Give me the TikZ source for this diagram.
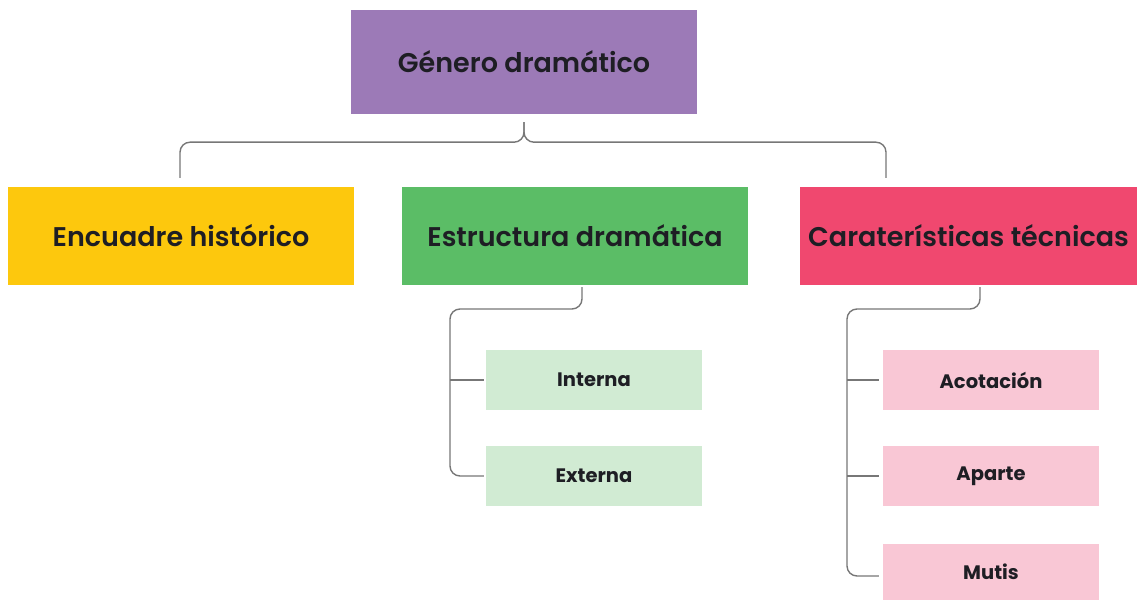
\documentclass[tikz,border=0pt]{standalone}
\usepackage{fontspec}
\setmainfont{Poppins}
\newfontfamily\popsb{Poppins SemiBold}
\usetikzlibrary{calc}
\definecolor{cRoot}{HTML}{9C7AB7}
\definecolor{cYel}{HTML}{FDC80D}
\definecolor{cGrn}{HTML}{5BBD66}
\definecolor{cRed}{HTML}{F0486F}
\definecolor{cLGrn}{HTML}{D1EBD3}
\definecolor{cLPnk}{HTML}{F9C7D5}
\definecolor{cLine}{HTML}{777777}
\definecolor{cTxt}{HTML}{1E1E24}
\tikzset{
  big/.style={rectangle, inner sep=0pt, minimum width=346pt, minimum height=98pt, text=cTxt, font=\fontsize{27}{30}\popsb},
  small/.style={rectangle, inner sep=0pt, minimum width=216pt, minimum height=60pt, text=cTxt, font=\fontsize{19.5}{22}\selectfont\bfseries},
  conn/.style={draw=cLine, line width=1.4pt, rounded corners=10pt},
}
\begin{document}
\begin{tikzpicture}[x=1pt,y=-1pt]
\useasboundingbox (0,0) rectangle (1137,601);
\node[big, fill=cRoot, minimum height=104pt] (root) at (524,62) {Género dramático};
\node[big, fill=cYel] (enc) at (181,236) {Encuadre histórico};
\node[big, fill=cGrn] (est) at (575,236) {Estructura dramática};
\node[big, fill=cRed, minimum width=337pt] (car) at (968.5,236) {Caraterísticas técnicas};
\node[small, fill=cLGrn] (int) at (594,380) {Interna};
\node[small, fill=cLGrn] (ext) at (594,476) {Externa};
\node[small, fill=cLPnk] (aco) at (991,380) {Acotación};
\node[small, fill=cLPnk] (apa) at (991,476) {Aparte};
\node[small, fill=cLPnk, minimum height=56pt] (mut) at (991,572) {Mutis};
% top brace
\draw[conn] ($(root.south)+(0,8)$) -- ($(root.south)+(0,28)$) -| ($(enc.north)+(-1,-9)$);
\draw[conn] ($(root.south)+(0,8)$) -- ($(root.south)+(0,28)$) -| ($(car.north)+(-82.5,-9)$);
% estructura
\draw[conn] ($(est.south)+(7,2)$) |- (450,309) |- ($(ext.west)+(-2,0)$);
\draw[conn] (450,380) -- ($(int.west)+(-2,0)$);
% caracteristicas
\draw[conn] ($(car.south)+(11.5,2)$) |- (847,309) |- ($(mut.west)+(-4,4)$);
\draw[conn] (847,380) -- ($(aco.west)+(-4,0)$);
\draw[conn] (847,476) -- ($(apa.west)+(-4,0)$);
\end{tikzpicture}
\end{document}
